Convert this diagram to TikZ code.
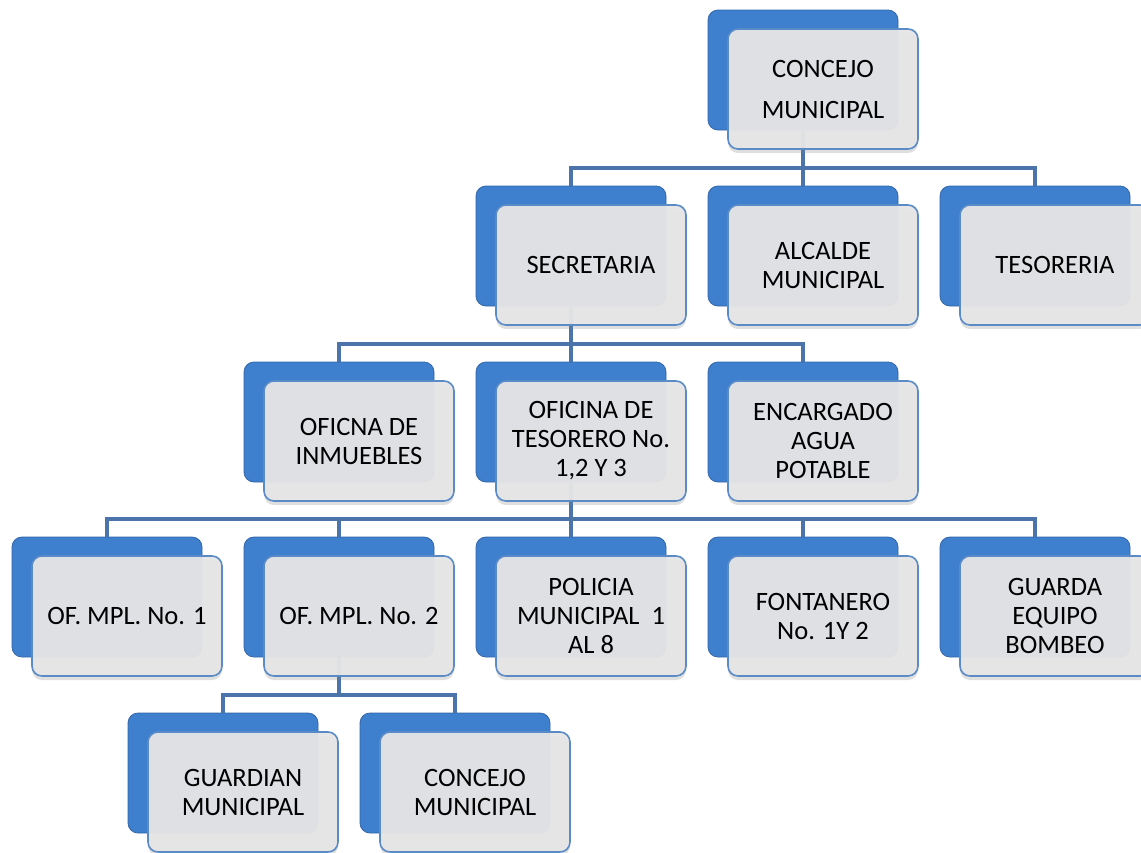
\documentclass[tikz,border=0pt]{standalone}
\usepackage{fontspec}
\setmainfont{Carlito}
\usetikzlibrary{shadows}
\definecolor{linkblue}{HTML}{4A74AA}
\definecolor{backtop}{HTML}{9CCDF8}
\definecolor{backmid}{HTML}{3E7FCE}
\definecolor{backbot}{HTML}{2A5896}
\definecolor{backedge}{HTML}{3467A8}
\definecolor{frontgray}{HTML}{E6E6E6}
\definecolor{frontedge}{HTML}{5A8BC6}
\pgfdeclareverticalshading{backshade}{100bp}{color(0bp)=(backbot); color(4bp)=(backbot); color(14bp)=(backmid); color(80bp)=(backmid); color(92bp)=(backmid!60!backtop); color(100bp)=(backtop)}
\begin{document}
\begin{tikzpicture}[x=1pt, y=-1pt,
    back/.style = {rounded corners=10pt, minimum width=190pt, minimum height=120pt,
                   shading=backshade, draw=backedge, line width=.8pt},
    front/.style = {rounded corners=10pt, minimum width=190pt, minimum height=120pt,
                    fill=frontgray, fill opacity=.95, text opacity=1, draw=frontedge,
                    line width=1.6pt, align=center, inner sep=0pt,
                    font=\fontsize{26.5}{29}\selectfont,
                    drop shadow={opacity=.25, shadow xshift=0pt, shadow yshift=-4pt}},
    link/.style = {line width=4pt, draw=linkblue}]
                \useasboundingbox (0,0) rectangle (1141,852);

                % back boxes
                \node[back] (concejoB) at (803,70) {};
                \node[back] (secretariaB) at (571,246) {};
                \node[back] (alcaldeB) at (803,246) {};
                \node[back] (tesoreriaB) at (1035,246) {};
                \node[back] (inmueblesB) at (339,422) {};
                \node[back] (tesoreroB) at (571,422) {};
                \node[back] (aguaB) at (803,422) {};
                \node[back] (mplunoB) at (107,597) {};
                \node[back] (mpldosB) at (339,597) {};
                \node[back] (policiaB) at (571,597) {};
                \node[back] (fontaneroB) at (803,597) {};
                \node[back] (bombeoB) at (1035,597) {};
                \node[back] (guardianB) at (223,773) {};
                \node[back] (concejodosB) at (455,773) {};

                % connectors
                \draw[link] (concejoB.south) -- ++(0,38) -| (secretariaB.north);
                \draw[link] (concejoB.south) -- ++(0,38) -| (alcaldeB.north);
                \draw[link] (concejoB.south) -- ++(0,38) -| (tesoreriaB.north);
                \draw[link] (secretariaB.south) -- ++(0,38) -| (inmueblesB.north);
                \draw[link] (secretariaB.south) -- ++(0,38) -| (tesoreroB.north);
                \draw[link] (secretariaB.south) -- ++(0,38) -| (aguaB.north);
                \draw[link] (tesoreroB.south) -- ++(0,37) -| (mplunoB.north);
                \draw[link] (tesoreroB.south) -- ++(0,37) -| (mpldosB.north);
                \draw[link] (tesoreroB.south) -- ++(0,37) -| (policiaB.north);
                \draw[link] (tesoreroB.south) -- ++(0,37) -| (fontaneroB.north);
                \draw[link] (tesoreroB.south) -- ++(0,37) -| (bombeoB.north);
                \draw[link] (mpldosB.south) -- ++(0,38) -| (guardianB.north);
                \draw[link] (mpldosB.south) -- ++(0,38) -| (concejodosB.north);

                % front boxes
                \node[front] (concejo) at (823,89) {CONCEJO\\[12pt]MUNICIPAL};
                \node[front] (secretaria) at (591,265) {SECRETARIA};
                \node[front] (alcalde) at (823,265) {ALCALDE\\MUNICIPAL};
                \node[front] (tesoreria) at (1055,265) {TESORERIA};
                \node[front] (inmuebles) at (359,441) {OFICNA DE\\INMUEBLES};
                \node[front] (tesorero) at (591,441) {OFICINA DE\\TESORERO No.\\1,2 Y 3};
                \node[front] (agua) at (823,441) {ENCARGADO\\AGUA\\POTABLE};
                \node[front] (mpluno) at (127,616) {OF. MPL. No. 1};
                \node[front] (mpldos) at (359,616) {OF. MPL. No. 2};
                \node[front] (policia) at (591,616) {POLICIA\\MUNICIPAL\ \ 1\\AL 8};
                \node[front] (fontanero) at (823,616) {FONTANERO\\No. 1Y 2};
                \node[front] (bombeo) at (1055,616) {GUARDA\\EQUIPO\\BOMBEO};
                \node[front] (guardian) at (243,792) {GUARDIAN\\MUNICIPAL};
                \node[front] (concejodos) at (475,792) {CONCEJO\\MUNICIPAL};
            \end{tikzpicture}
\end{document}
